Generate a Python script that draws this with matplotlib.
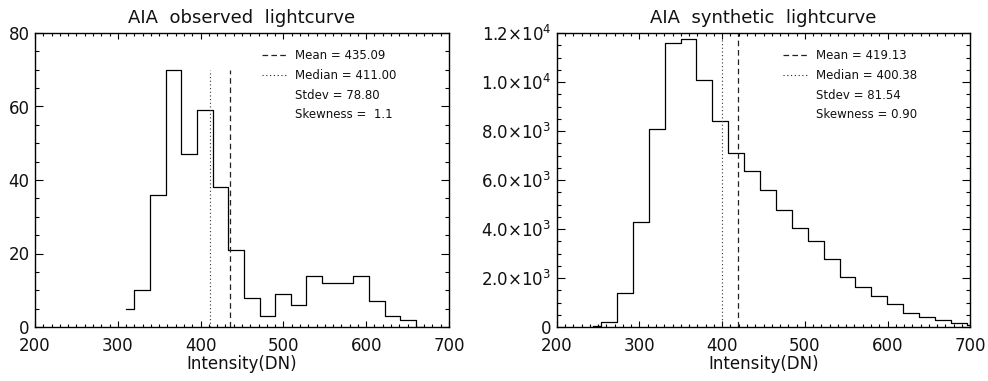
import matplotlib
matplotlib.use("Agg")
import matplotlib.pyplot as plt
from matplotlib.ticker import MultipleLocator, FixedLocator

# ---------------- data ----------------
obs_centers = [310.5, 329.4, 348.3, 367.2, 386.1, 405.0, 423.9, 442.8, 461.7, 480.6,
               499.5, 518.4, 537.3, 556.2, 575.1, 594.0, 612.9, 631.8, 650.7, 669.6]
obs_counts = [5, 10, 36, 70, 47, 59, 38, 21, 8, 3, 9, 6, 14, 12, 12, 14, 7, 3, 2, 0]
obs_mean, obs_median, obs_stdev, obs_skew = 435.09, 411.00, 78.80, "1.1"
obs_line_top = 70

syn_centers = [244.0, 263.2, 282.4, 301.7, 320.9, 340.1, 359.3, 378.5, 397.8, 417.0,
               436.2, 455.4, 474.6, 493.9, 513.1, 532.3, 551.5, 570.7, 590.0, 609.2,
               628.4, 647.6, 666.8, 686.1, 705.3]
syn_counts = [40, 200, 1400, 4300, 8100, 11600, 11750, 10100, 8400, 7100,
              6350, 5600, 4760, 4030, 3510, 2760, 2050, 1650, 1270, 940,
              590, 410, 270, 160, 100]
syn_mean, syn_median, syn_stdev, syn_skew = 419.13, 400.38, 81.54, "0.90"
syn_line_top = 12000

titles = ["AIA  observed  lightcurve", "AIA  synthetic  lightcurve"]
xlabel = "Intensity(DN)"
xticks = [200, 300, 400, 500, 600, 700]
obs_yticks = [0, 20, 40, 60, 80]
obs_yticklabels = ["0", "20", "40", "60", "80"]
syn_yticks = [0, 2000, 4000, 6000, 8000, 10000, 12000]
syn_yticklabels = ["0", r"2.0$\times$10$^3$", r"4.0$\times$10$^3$", r"6.0$\times$10$^3$",
                   r"8.0$\times$10$^3$", r"1.0$\times$10$^4$", r"1.2$\times$10$^4$"]

# ---------------- figure ----------------
plt.rcParams['font.family'] = ['DejaVu Sans']
plt.rcParams['mathtext.fontset'] = 'dejavusans'
fig = plt.figure(figsize=(9.88, 3.81), dpi=100)

ax1 = fig.add_axes([35/988, 1-327/381, 414/988, 294/381])
ax2 = fig.add_axes([556.7/988, 1-327/381, 413.6/988, 294/381])

TXT = '#111111'
DASH = (0, (4.5, 3.0))
DOT = (0, (1.0, 2.3))

def setup(ax, centers, counts, mean, median, stdev, skew, top, ylim,
          yticks, yticklabels, yminor, title):
    ax.step(centers, counts, where='mid', color='black', lw=0.9, clip_on=True)
    ax.plot([mean, mean], [0, top], color='#222222', lw=0.9, linestyle=DASH)
    ax.plot([median, median], [0, top], color='#333333', lw=0.8, linestyle=DOT)
    ax.set_xlim(200, 700)
    ax.set_ylim(*ylim)
    ax.xaxis.set_major_locator(FixedLocator(xticks))
    ax.xaxis.set_minor_locator(MultipleLocator(10))
    ax.yaxis.set_major_locator(FixedLocator(yticks))
    ax.set_yticklabels(yticklabels)
    ax.yaxis.set_minor_locator(MultipleLocator(yminor))
    ax.set_xticklabels([str(t) for t in xticks])
    ax.tick_params(axis='both', which='both', direction='in', top=True, right=True,
                   colors='black', labelcolor=TXT, labelsize=12, width=0.8)
    ax.tick_params(axis='x', which='major', length=4.0, pad=7)
    ax.tick_params(axis='x', which='minor', length=2.0)
    ax.tick_params(axis='y', which='major', length=5.5, pad=4)
    ax.tick_params(axis='y', which='minor', length=2.7)
    for s in ax.spines.values():
        s.set_linewidth(1.0)
        s.set_color('black')
    ax.set_title(title, fontsize=13, color=TXT, pad=7)
    ax.set_xlabel(xlabel, fontsize=12, color=TXT, labelpad=0)

    # annotation block
    rows = [0.925, 0.857, 0.789, 0.7235]
    lx0, lx1, tx = 0.548, 0.610, 0.628
    ax.plot([lx0, lx1], [rows[0], rows[0]], transform=ax.transAxes, color='#222222',
            lw=0.9, linestyle=(0, (4.5, 2.6)))
    ax.plot([lx0, lx1], [rows[1], rows[1]], transform=ax.transAxes, color='#222222',
            lw=0.8, linestyle=(0, (1.0, 2.4)))
    texts = ["Mean = %.2f" % mean, "Median = %.2f" % median,
             "Stdev = %.2f" % stdev, "Skewness = %s" % skew]
    if skew == "1.1":
        texts[3] = "Skewness =  1.1"
    for r, t in zip(rows, texts):
        ax.text(tx, r, t, transform=ax.transAxes, fontsize=8.5, color=TXT,
                ha='left', va='center')

setup(ax1, obs_centers, obs_counts, obs_mean, obs_median, obs_stdev, obs_skew,
      obs_line_top, (0, 80), obs_yticks, obs_yticklabels, 5, titles[0])
setup(ax2, syn_centers, syn_counts, syn_mean, syn_median, syn_stdev, syn_skew,
      syn_line_top, (0, 12000), syn_yticks, syn_yticklabels, 500, titles[1])

fig.savefig("out.png", dpi=100)
